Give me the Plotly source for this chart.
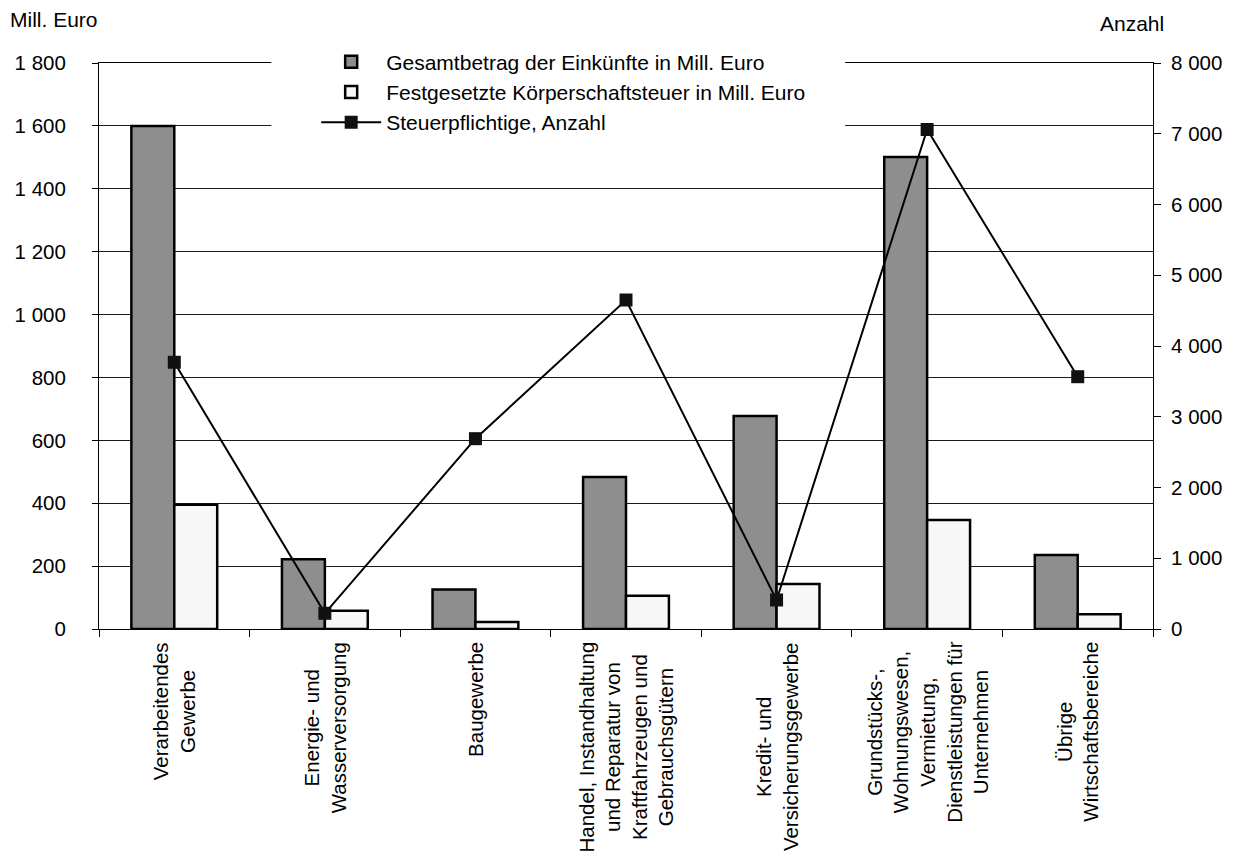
import plotly.graph_objects as go

categories = [
    "Verarbeitendes<br>Gewerbe",
    "Energie- und<br>Wasserversorgung",
    "Baugewerbe",
    "Handel, Instandhaltung<br>und Reparatur von<br>Kraftfahrzeugen und<br>Gebrauchsgütern",
    "Kredit- und<br>Versicherungsgewerbe",
    "Grundstücks-,<br>Wohnungswesen,<br>Vermietung,<br>Dienstleistungen für<br>Unternehmen",
    "Übrige<br>Wirtschaftsbereiche",
]
keys = ["c1", "c2", "c3", "c4", "c5", "c6", "c7"]

einkuenfte = [1600, 222, 126, 483, 677, 1501, 235]
koerperschaftsteuer = [395, 58, 22, 106, 143, 347, 47]
steuerpflichtige = [3770, 222, 2690, 4650, 410, 7060, 3566]

left_ticks = [0, 200, 400, 600, 800, 1000, 1200, 1400, 1600, 1800]
left_labels = ["0", "200", "400", "600", "800", "1 000", "1 200", "1 400", "1 600", "1 800"]
right_ticks = [0, 1000, 2000, 3000, 4000, 5000, 6000, 7000, 8000]
right_labels = ["0", "1 000", "2 000", "3 000", "4 000", "5 000", "6 000", "7 000", "8 000"]

FONT = "Liberation Sans, Arial, sans-serif"
W, H = 1234, 854
ml, mr, mt, mb = 99, 77, 63, 225
pw, ph = W - ml - mr, H - mt - mb


def px_x(px):
    return (px - ml) / pw


def px_y(py):
    return (H - mb - py) / ph


fig = go.Figure()
fig.add_trace(go.Bar(
    x=keys, y=einkuenfte, name="Gesamtbetrag der Einkünfte in Mill. Euro",
    marker=dict(color="#8e8e8e", line=dict(color="#000000", width=2.5)),
))
fig.add_trace(go.Bar(
    x=keys, y=koerperschaftsteuer, name="Festgesetzte Körperschaftsteuer in Mill. Euro",
    marker=dict(color="#f7f7f7", line=dict(color="#000000", width=2.5)),
))
fig.add_trace(go.Scatter(
    x=keys, y=steuerpflichtige, name="Steuerpflichtige, Anzahl", yaxis="y2",
    mode="lines+markers",
    line=dict(color="#000000", width=2),
    marker=dict(symbol="square", size=13, color="#111111"),
))

annotations = []
for k, c in zip(keys, categories):
    annotations.append(dict(
        x=k, xref="x", y=0, yref="paper", yshift=-11,
        text=c, textangle=-90, showarrow=False,
        xanchor="center", yanchor="top", align="center",
        font=dict(size=20.5, color="#000000", family=FONT),
    ))
annotations.append(dict(x=px_x(8), xref="paper", y=px_y(20), yref="paper",
                        text="Mill. Euro", showarrow=False,
                        xanchor="left", yanchor="middle",
                        font=dict(size=21, color="#000", family=FONT)))
annotations.append(dict(x=px_x(1102), xref="paper", y=px_y(24), yref="paper",
                        text="Anzahl", showarrow=False,
                        xanchor="left", yanchor="middle",
                        font=dict(size=21, color="#000", family=FONT)))

# white background area of the legend box (covers gridlines, as in the original)
shapes = [dict(
    type="rect", xref="paper", yref="paper", layer="above",
    x0=px_x(272), x1=px_x(848), y0=px_y(143), y1=px_y(42),
    fillcolor="white", line=dict(width=0),
)]

fig.update_layout(
    width=W, height=H,
    margin=dict(l=ml, r=mr, t=mt, b=mb),
    paper_bgcolor="white", plot_bgcolor="white",
    font=dict(family=FONT, size=20.5, color="#000000"),
    barmode="group", bargap=0.43, bargroupgap=0,
    showlegend=True,
    legend=dict(
        x=px_x(317), y=px_y(41.5), xanchor="left", yanchor="top",
        bgcolor="white", borderwidth=0, itemwidth=60,
        font=dict(size=21, family=FONT, color="#000"),
        tracegroupgap=0,
    ),
    xaxis=dict(
        showticklabels=False, ticks="outside", tickson="boundaries",
        ticklen=7, tickcolor="#000", showline=True, linecolor="#000",
        linewidth=1, showgrid=False, zeroline=False, mirror=True,
    ),
    yaxis=dict(
        range=[0, 1800], tickvals=left_ticks, ticktext=left_labels,
        ticks="outside", ticklen=6, tickcolor="#000",
        showline=True, linecolor="#000", linewidth=1,
        showgrid=True, gridcolor="#1a1a1a", gridwidth=1, zeroline=False,
        ticklabelstandoff=22,
    ),
    yaxis2=dict(
        range=[0, 8000], tickvals=right_ticks, ticktext=right_labels,
        overlaying="y", side="right",
        ticks="outside", ticklen=7, tickcolor="#000",
        showline=True, linecolor="#000", linewidth=1,
        showgrid=False, zeroline=False, ticklabelstandoff=6,
    ),
    annotations=annotations,
    shapes=shapes,
)

fig.write_html("out.html")
